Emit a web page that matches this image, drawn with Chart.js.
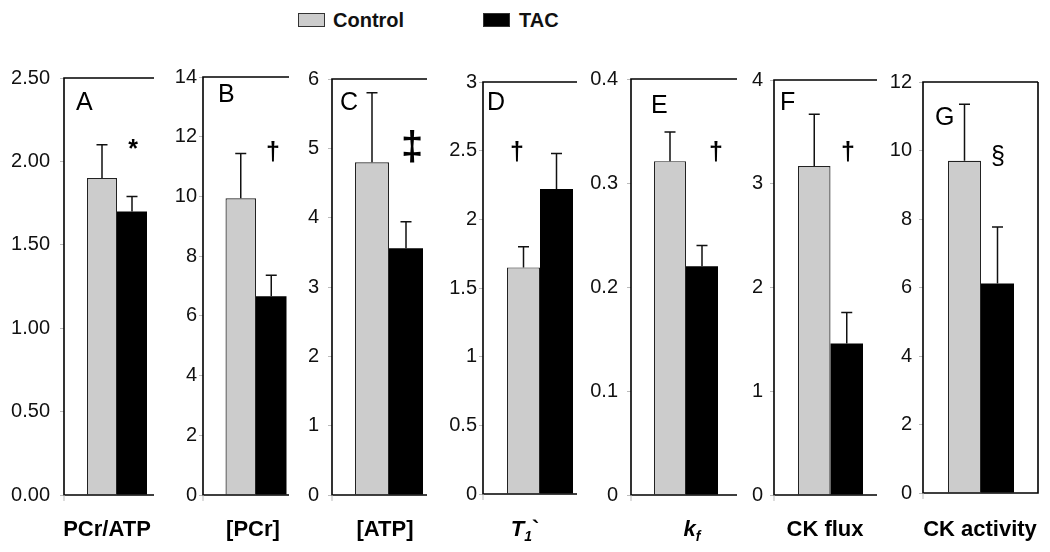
<!DOCTYPE html>
<html>
<head>
<meta charset="utf-8">
<script src="https://cdn.jsdelivr.net/npm/chart.js@4.4.0/dist/chart.umd.min.js"></script>
<style>
    body {
        margin: 0;
        width: 1050px;
        height: 552px;
        position: relative;
        overflow: hidden;
        background: #fff;
        font-family: "Liberation Sans", Arial, sans-serif;
    }
    .panel {
        position: absolute;
        top: 0;
    }
    .legend-box {
        position: absolute;
        top: 13px;
        width: 25px;
        height: 12px;
        border: 1px solid #333;
    }
    .legend-text {
        position: absolute;
        top: 10px;
        font-size: 20px;
        line-height: 20px;
        font-weight: bold;
        color: #111;
    }
</style>
</head>
<body>
<div class="legend-box" style="left:298px; background:#cccccc"></div>
<div class="legend-text" style="left:333px">Control</div>
<div class="legend-box" style="left:483px; background:#000"></div>
<div class="legend-text" style="left:519px">TAC</div>

<script>
// data (mean and SD per panel)
const categories = ["PCr/ATP", "[PCr]", "[ATP]", "T_1`", "k_f", "CK flux", "CK activity"];
const panelLetters = ["A", "B", "C", "D", "E", "F", "G"];
const markers = ["*", "\u2020", "\u2021", "\u2020", "\u2020", "\u2020", "\u00a7"];
const controlMean = [1.90, 9.94, 4.80, 1.65, 0.321, 3.17, 9.70];
const controlSD = [0.20, 1.50, 1.00, 0.15, 0.028, 0.50, 1.65];
const tacMean = [1.70, 6.66, 3.56, 2.22, 0.220, 1.46, 6.12];
const tacSD = [0.09, 0.70, 0.38, 0.26, 0.020, 0.30, 1.65];
const yMax = [2.5, 14, 6, 3, 0.4, 4, 12];
const yStep = [0.5, 2, 1, 0.5, 0.1, 1, 2];
const yDecimals = [2, 0, 0, 1, 1, 0, 0];

// layout of each panel (px)
const boxLeft = [64, 203, 332, 483, 631, 774, 923];
const boxWidth = [90, 86, 95, 94, 106, 103, 115];
const barOffset = [53, 53, 57, 57, 55, 56.5, 58];
const groupWidth = [60, 61, 68, 66, 64, 65, 66];
const boxTop = [78, 77, 79, 82, 79, 80, 82];
const boxBottom = [495, 495, 495, 494, 495, 495, 493];
const tickPad = [10, 2, 9, 2, 9, 7, 7];
const letterPos = [[12, 110], [15, 102], [8, 110], [4, 110], [20, 113], [6, 110], [12, 125]];
const markerPos = [[69, 157], [70, 160], [80, 160], [34, 160], [85, 160], [74, 160], [75, 164]];
const labelX = [43, 50, 53, 42, 61, 51, 57];
const FONT = '"Liberation Sans", Arial, sans-serif';

function formatTick(v, i) {
    if (yDecimals[i] === 2) return Number(v).toFixed(2);
    return String(parseFloat(Number(v).toFixed(yDecimals[i])));
}

function drawLabel(ctx, text, cx, baseline) {
    // "X_y" means y is a subscript, drawn in bold italic
    let parts;
    if (text.indexOf("_") >= 0) {
        const [main, rest] = text.split("_");
        parts = [
            { t: main, font: "bold italic 22px " + FONT, dy: 0 },
            { t: rest[0], font: "bold italic 14px " + FONT, dy: 5 },
            { t: rest.slice(1), font: "bold 22px " + FONT, dy: 0 },
        ];
    } else {
        parts = [{ t: text, font: "bold 22px " + FONT, dy: 0 }];
    }
    let total = 0;
    parts.forEach(p => {
        ctx.font = p.font;
        p.w = ctx.measureText(p.t).width;
        total += p.w;
    });
    let x = cx - total / 2;
    ctx.textAlign = "left";
    ctx.textBaseline = "alphabetic";
    parts.forEach(p => {
        ctx.font = p.font;
        ctx.fillText(p.t, x, baseline + p.dy);
        x += p.w;
    });
}

function decorPlugin(i) {
    return {
        id: "decor" + i,
        afterDatasetsDraw(chart) {
            const ctx = chart.ctx;
            const area = chart.chartArea;
            const yScale = chart.scales.y;
            const left = area.left;
            const right = left + boxWidth[i];
            ctx.save();

            // error bars
            ctx.strokeStyle = "#111";
            ctx.lineWidth = 1.5;
            [[controlMean, controlSD], [tacMean, tacSD]].forEach(([m, sd], d) => {
                const bar = chart.getDatasetMeta(d).data[0];
                const yTop = yScale.getPixelForValue(m[i] + sd[i]);
                ctx.beginPath();
                ctx.moveTo(bar.x, bar.y);
                ctx.lineTo(bar.x, yTop);
                ctx.moveTo(bar.x - 5.5, yTop);
                ctx.lineTo(bar.x + 5.5, yTop);
                ctx.stroke();
            });

            // frame
            ctx.strokeStyle = "#000";
            ctx.lineWidth = 1.6;
            ctx.beginPath();
            ctx.moveTo(right, area.top);
            ctx.lineTo(left, area.top);
            ctx.lineTo(left, area.bottom);
            ctx.lineTo(right, area.bottom);
            if (i === 6) ctx.lineTo(right, area.top);
            ctx.stroke();
            ctx.strokeStyle = "#bbb";
            ctx.lineWidth = 1;
            ctx.beginPath();
            ctx.moveTo(left, area.bottom);
            ctx.lineTo(left, area.bottom + 6);
            ctx.stroke();

            // panel letter and significance mark
            ctx.fillStyle = "#000";
            ctx.textBaseline = "alphabetic";
            ctx.textAlign = "left";
            ctx.font = "25px " + FONT;
            ctx.fillText(panelLetters[i], left + letterPos[i][0], letterPos[i][1]);
            ctx.textAlign = "center";
            if (i === 2) ctx.font = "bold 40px " + FONT;
            else if (i === 6) ctx.font = "25px " + FONT;
            else ctx.font = "bold 25px " + FONT;
            ctx.fillText(markers[i], left + markerPos[i][0], markerPos[i][1]);

            // axis label
            drawLabel(ctx, categories[i], left + labelX[i], 536);
            ctx.restore();
        },
    };
}

categories.forEach((name, i) => {
    const canvas = document.createElement("canvas");
    canvas.className = "panel";
    canvas.width = 64 + 2 * barOffset[i];
    canvas.height = 552;
    canvas.style.left = (boxLeft[i] - 60) + "px";
    document.body.appendChild(canvas);

    new Chart(canvas, {
        type: "bar",
        data: {
            labels: [name],
            datasets: [
                {
                    label: "Control",
                    data: [controlMean[i]],
                    backgroundColor: "#cccccc",
                    borderColor: "#222",
                    borderWidth: 1.2,
                },
                {
                    label: "TAC",
                    data: [tacMean[i]],
                    backgroundColor: "#000",
                    borderColor: "#000",
                    borderWidth: 0,
                },
            ],
        },
        options: {
            responsive: false,
            animation: false,
            devicePixelRatio: 1,
            barPercentage: 1,
            categoryPercentage: groupWidth[i] / (2 * barOffset[i]),
            layout: {
                padding: { left: 0, right: 4, top: boxTop[i], bottom: 552 - boxBottom[i] },
            },
            scales: {
                x: { display: false },
                y: {
                    min: 0,
                    max: yMax[i],
                    afterFit: (scale) => { scale.width = 60; },
                    border: { display: false },
                    grid: {
                        display: true,
                        drawOnChartArea: false,
                        drawTicks: true,
                        tickLength: 4,
                        color: "#bbb",
                    },
                    ticks: {
                        stepSize: yStep[i],
                        padding: tickPad[i],
                        color: "#111",
                        font: { family: FONT, size: 20 },
                        callback: (v) => formatTick(v, i),
                    },
                },
            },
            plugins: {
                legend: { display: false },
                tooltip: { enabled: false },
            },
        },
        plugins: [decorPlugin(i)],
    });
});
</script>
</body>
</html>
